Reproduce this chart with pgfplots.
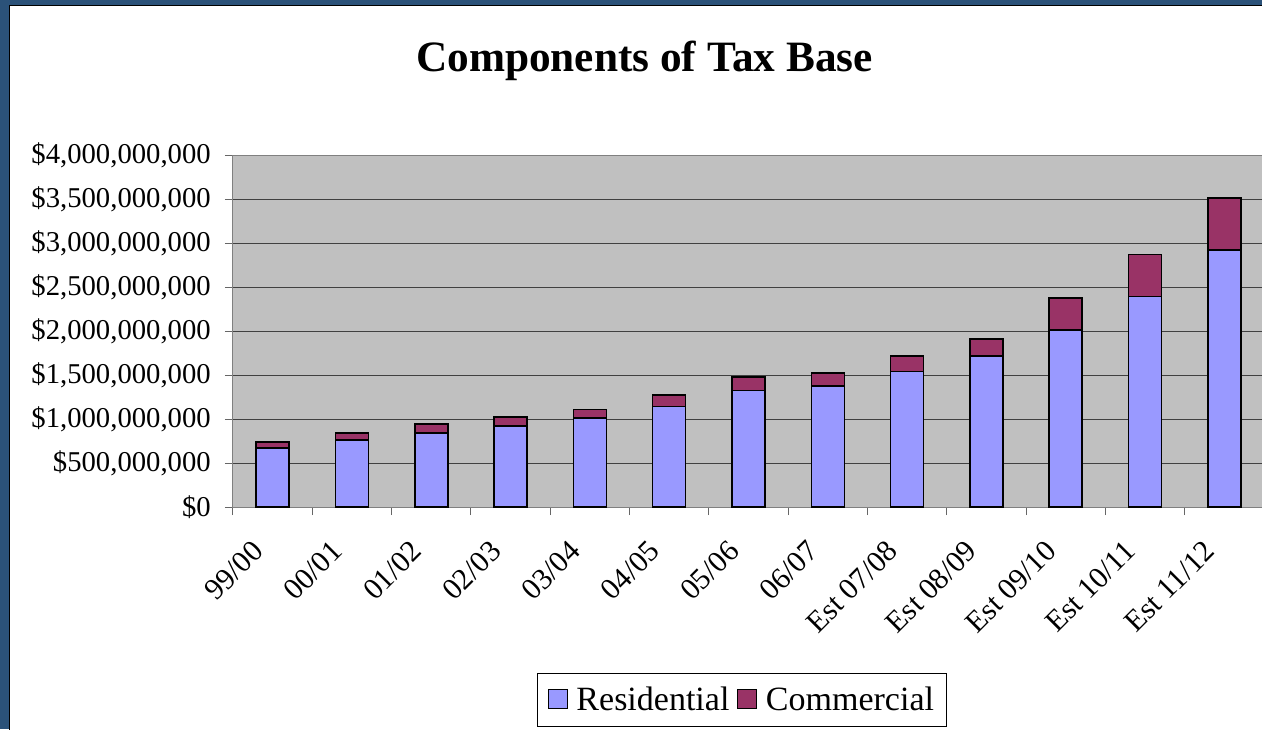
\documentclass[border=0pt]{standalone}
\usepackage{pgfplots}
\pgfplotsset{compat=1.18}
\usepackage{fontspec}
\setmainfont{Liberation Serif}
\definecolor{frameblue}{HTML}{2B5279}
\definecolor{resblue}{HTML}{9999FF}
\definecolor{commred}{HTML}{993366}
\definecolor{bggray}{HTML}{C0C0C0}
\pgfplotstableread{
idx res comm
0  0.67 0.07
1  0.76 0.08
2  0.84 0.10
3  0.92 0.10
4  1.01 0.10
5  1.14 0.13
6  1.326 0.148
7  1.375 0.148
8  1.542 0.171
9  1.713 0.193
10 2.01 0.365
11 2.39 0.48
12 2.92 0.59
}\taxdata
\begin{document}
\begin{tikzpicture}[x=1pt,y=1pt]
\path[use as bounding box] (0,0) rectangle (1262,729);
\clip (0,0) rectangle (1262,729);
\fill[frameblue] (0,0) rectangle (1262,729);
\fill[white,draw=black,line width=1.2pt] (9.5,-5) rectangle (1275,723.3);
\node[font=\bfseries\fontsize{43.3}{48}\selectfont,anchor=base] at (644.5,657) {Components of Tax Base};
\begin{axis}[
  at={(233pt,222pt)}, anchor=south west,
  width=1031pt, height=352pt, scale only axis,
  xmin=-0.5, xmax=12.5, ymin=0, ymax=4,
  ybar stacked, bar width=33pt,
  axis background/.style={fill=bggray},
  axis line style={draw=black!50, line width=1pt},
  xtick pos=bottom, ytick pos=left,
  ytick={0,0.5,...,4},
  yticklabels={\$0,\$500{,}000{,}000,\$1{,}000{,}000{,}000,\$1{,}500{,}000{,}000,\$2{,}000{,}000{,}000,\$2{,}500{,}000{,}000,\$3{,}000{,}000{,}000,\$3{,}500{,}000{,}000,\$4{,}000{,}000{,}000},
  ymajorgrids, major grid style={draw=black!75, line width=1pt},
  ytick style={draw=black!60, line width=1pt},
  major tick length=8pt, tick align=outside,
  xtick={0,...,12},
  xticklabels={99/00,00/01,01/02,02/03,03/04,04/05,05/06,06/07,Est 07/08,Est 08/09,Est 09/10,Est 10/11,Est 11/12},
  x tick style={draw=none},
  minor xtick={-0.5,0.5,...,12.5},
  minor x tick style={draw=black!60, line width=1pt},
  minor tick length=8pt,
  yticklabel style={font=\fontsize{28.7}{32}\selectfont, inner sep=0pt, xshift=-14pt},
  xticklabel style={font=\fontsize{30}{34}\selectfont, xshift=-22pt, yshift=-24pt, rotate=45, anchor=north east, inner sep=0pt},
  legend columns=2,
  legend style={at={(0.4937,-0.548)}, anchor=center, draw=black, line width=1pt,
    font=\fontsize{34}{38}\selectfont, inner xsep=10pt, inner ysep=12pt,
    /tikz/every even column/.append style={column sep=6pt}},
  legend image code/.code={\draw[#1, line width=1pt] (0pt,-9pt) rectangle (19pt,10pt); \path[draw=none,fill=none] (19pt,0pt) -- (26pt,0pt);},
]
\addplot[fill=resblue, draw=black, line width=1.6pt] table[x=idx,y=res]{\taxdata};
\addplot[fill=commred, draw=black, line width=1.6pt] table[x=idx,y=comm]{\taxdata};
\legend{Residential,Commercial}
\end{axis}
\end{tikzpicture}
\end{document}
